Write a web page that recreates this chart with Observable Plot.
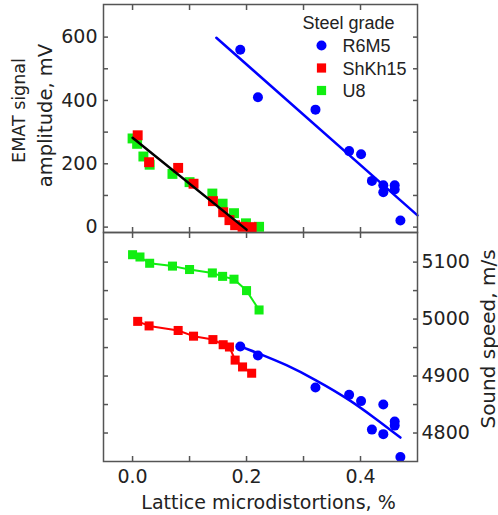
<!DOCTYPE html>
<html>
<head>
<meta charset="utf-8">
<script src="https://cdn.jsdelivr.net/npm/d3@7"></script>
<script src="https://cdn.jsdelivr.net/npm/@observablehq/plot@0.6"></script>
<style>
  html, body { margin: 0; padding: 0; background: #fff; }
  #wrap { position: relative; width: 498px; height: 515px; }
  #wrap svg { position: absolute; left: 0; top: 0; }
</style>
</head>
<body>
<div id="wrap"></div>
<script>
// ---------- data ----------
const grades = ["R6M5", "ShKh15", "U8"];
const gradeColors = ["#0000ff", "#ff0000", "#11ee11"];
const legendTitle = "Steel grade";

// R6M5 (circles) – same samples in both panels
const r6m5X     = [0.189, 0.220, 0.321, 0.380, 0.401, 0.420, 0.440, 0.440, 0.460, 0.460, 0.470];
const r6m5Amp   = [560, 410, 371, 240, 230, 146, 132, 110, 132, 119, 21];
const r6m5Speed = [4952, 4936, 4880, 4867, 4856, 4806, 4850, 4798, 4820, 4813, 4758];

// ShKh15 (red squares)
const shkhX     = [0.009, 0.029, 0.080, 0.107, 0.141, 0.159, 0.170, 0.180, 0.193, 0.209];
const shkhAmp   = [290, 205, 187, 137, 82, 47, 22, 6, 1, 0];
const shkhSpeed = [4996, 4988, 4980, 4970, 4964, 4955, 4951, 4928, 4916, 4905];

// U8 (green squares)
const u8AmpX    = [0.000, 0.008, 0.019, 0.030, 0.070, 0.100, 0.140, 0.158, 0.178, 0.199, 0.222];
const u8Amp     = [280, 263, 223, 197, 168, 142, 106, 74, 44, 12, 1];
const u8SpeedX  = [0.000, 0.013, 0.030, 0.070, 0.100, 0.140, 0.158, 0.178, 0.200, 0.222];
const u8Speed   = [5113, 5109, 5098, 5093, 5087, 5081, 5075, 5070, 5050, 5016];

// fitted lines
const r6m5FitX   = [0.147, 0.500];
const r6m5FitAmp = [598, 37];
const steelFitX   = [0.000, 0.200];
const steelFitAmp = [282, -8];
const r6m5CurveX     = [0.189, 0.220, 0.270, 0.321, 0.383, 0.424, 0.470];
const r6m5CurveSpeed = [4952, 4940, 4919, 4893, 4856, 4827, 4792];

// ticks and labels
const xTicks = [0, 0.1, 0.2, 0.3, 0.4];
const xTickLabels = [0, 0.2, 0.4];
const ampTicks = [0, 100, 200, 300, 400, 500, 600];
const ampTickLabels = [0, 200, 400, 600];
const speedTicks = [4800, 4850, 4900, 4950, 5000, 5050, 5100];
const speedTickLabels = [4800, 4900, 5000, 5100];
const xLabel = "Lattice microdistortions, %";
const ampLabelLines = ["EMAT signal", "amplitude, mV"];
const speedLabel = "Sound speed, m/s";

// ---------- helpers ----------
const zip = (xs, ys) => xs.map((x, i) => ({x, y: ys[i]}));
const W = 498, H = 515, ML = 103, MR = 81;
const FONT = '"Liberation Sans", Arial, Helvetica, sans-serif';
const WIDE = '"DejaVu Sans", Verdana, sans-serif';
const AX = "#555";
const TXT = "#222";
const xDomain = [-0.051, 0.5];
const [BLUE, RED, GREEN] = gradeColors;

function tickAxes(kind, anchors, ticks) {
  const f = kind === "x" ? Plot.axisX : Plot.axisY;
  return anchors.map(a => f({anchor: a, ticks, tickSize: -5, tickFormat: () => "", stroke: AX, strokeWidth: 1.5, label: null}));
}

const style = {fontFamily: FONT, fontSize: "18px", color: TXT, background: "transparent", overflow: "visible"};

// ---------- top panel ----------
const topPlot = Plot.plot({
  width: W, height: H,
  marginLeft: ML, marginRight: MR, marginTop: 4, marginBottom: H - 232,
  x: {domain: xDomain},
  y: {domain: [-17, 703]},
  style,
  marks: [
    ...tickAxes("x", ["top", "bottom"], xTicks),
    ...tickAxes("y", ["left", "right"], ampTicks),
    Plot.axisY({anchor: "left", ticks: ampTickLabels, tickSize: 0, tickPadding: 6, fontSize: 19, fontFamily: WIDE, fill: TXT, label: null}),
    Plot.dot(zip(u8AmpX, u8Amp), {x: "x", y: "y", symbol: "square", r: 5.6, fill: GREEN}),
    Plot.dot(zip(shkhX, shkhAmp), {x: "x", y: "y", symbol: "square", r: 5.6, fill: RED}),
    Plot.line(zip(steelFitX, steelFitAmp), {x: "x", y: "y", stroke: "#000", strokeWidth: 2.5}),
    Plot.line(zip(r6m5FitX, r6m5FitAmp), {x: "x", y: "y", stroke: BLUE, strokeWidth: 2.5}),
    Plot.dot(zip(r6m5X, r6m5Amp), {x: "x", y: "y", r: 5, fill: BLUE}),
    Plot.frame({stroke: AX, strokeWidth: 1.5}),
    Plot.text([ampLabelLines[0]], {frameAnchor: "left", dx: -79, dy: -8, rotate: -90, textAnchor: "middle", lineAnchor: "bottom", fontSize: 17.5, fontFamily: WIDE, fill: TXT}),
    Plot.text([ampLabelLines[1]], {frameAnchor: "left", dx: -52, dy: -3, rotate: -90, textAnchor: "middle", lineAnchor: "bottom", fontSize: 19.5, fontFamily: WIDE, fill: TXT}),
    // legend
    Plot.text([legendTitle], {frameAnchor: "top-left", dx: 199, dy: 19, textAnchor: "start", lineAnchor: "middle", fontSize: 18, fill: TXT}),
    ...grades.map((g, i) => Plot.dot([g], {frameAnchor: "top-left", dx: 218, dy: 41 + i * 22.5, r: i === 0 ? 5 : 5.2, symbol: i === 0 ? "circle" : "square", fill: gradeColors[i]})),
    ...grades.map((g, i) => Plot.text([g], {frameAnchor: "top-left", dx: 239, dy: 42 + i * 22.5, textAnchor: "start", lineAnchor: "middle", fontSize: 18, fill: TXT}))
  ]
});

// ---------- bottom panel ----------
const bottomPlot = Plot.plot({
  width: W, height: H,
  marginLeft: ML, marginRight: MR, marginTop: 232, marginBottom: H - 461,
  x: {domain: xDomain},
  y: {domain: [4750, 5152]},
  style,
  marks: [
    ...tickAxes("x", ["top", "bottom"], xTicks),
    ...tickAxes("y", ["left", "right"], speedTicks),
    Plot.axisX({anchor: "bottom", ticks: xTickLabels, tickSize: 0, tickPadding: 8, tickFormat: d3.format(".1f"), fontSize: 19, fontFamily: WIDE, fill: TXT, label: null}),
    Plot.axisY({anchor: "right", ticks: speedTickLabels, tickSize: 0, tickPadding: 4, tickFormat: d3.format("d"), fontSize: 19, fontFamily: WIDE, fill: TXT, label: null}),
    Plot.line(zip(u8SpeedX, u8Speed), {x: "x", y: "y", stroke: GREEN, strokeWidth: 2}),
    Plot.dot(zip(u8SpeedX, u8Speed), {x: "x", y: "y", symbol: "square", r: 5.1, fill: GREEN}),
    Plot.line(zip(shkhX, shkhSpeed), {x: "x", y: "y", stroke: RED, strokeWidth: 2}),
    Plot.dot(zip(shkhX, shkhSpeed), {x: "x", y: "y", symbol: "square", r: 5.1, fill: RED}),
    Plot.line(zip(r6m5CurveX, r6m5CurveSpeed), {x: "x", y: "y", stroke: BLUE, strokeWidth: 2.5, curve: "monotone-x"}),
    Plot.dot(zip(r6m5X, r6m5Speed), {x: "x", y: "y", r: 5, fill: BLUE}),
    Plot.frame({stroke: AX, strokeWidth: 1.5}),
    Plot.text([speedLabel], {frameAnchor: "right", dx: 77, dy: -8, rotate: -90, textAnchor: "middle", lineAnchor: "bottom", fontSize: 20, fontFamily: WIDE, fill: TXT}),
    Plot.text([xLabel], {frameAnchor: "bottom", dx: 8, dy: 47, textAnchor: "middle", lineAnchor: "bottom", fontSize: 19, fontFamily: WIDE, fill: TXT})
  ]
});

const wrap = document.getElementById("wrap");
wrap.appendChild(bottomPlot);
wrap.appendChild(topPlot);
</script>
</body>
</html>
